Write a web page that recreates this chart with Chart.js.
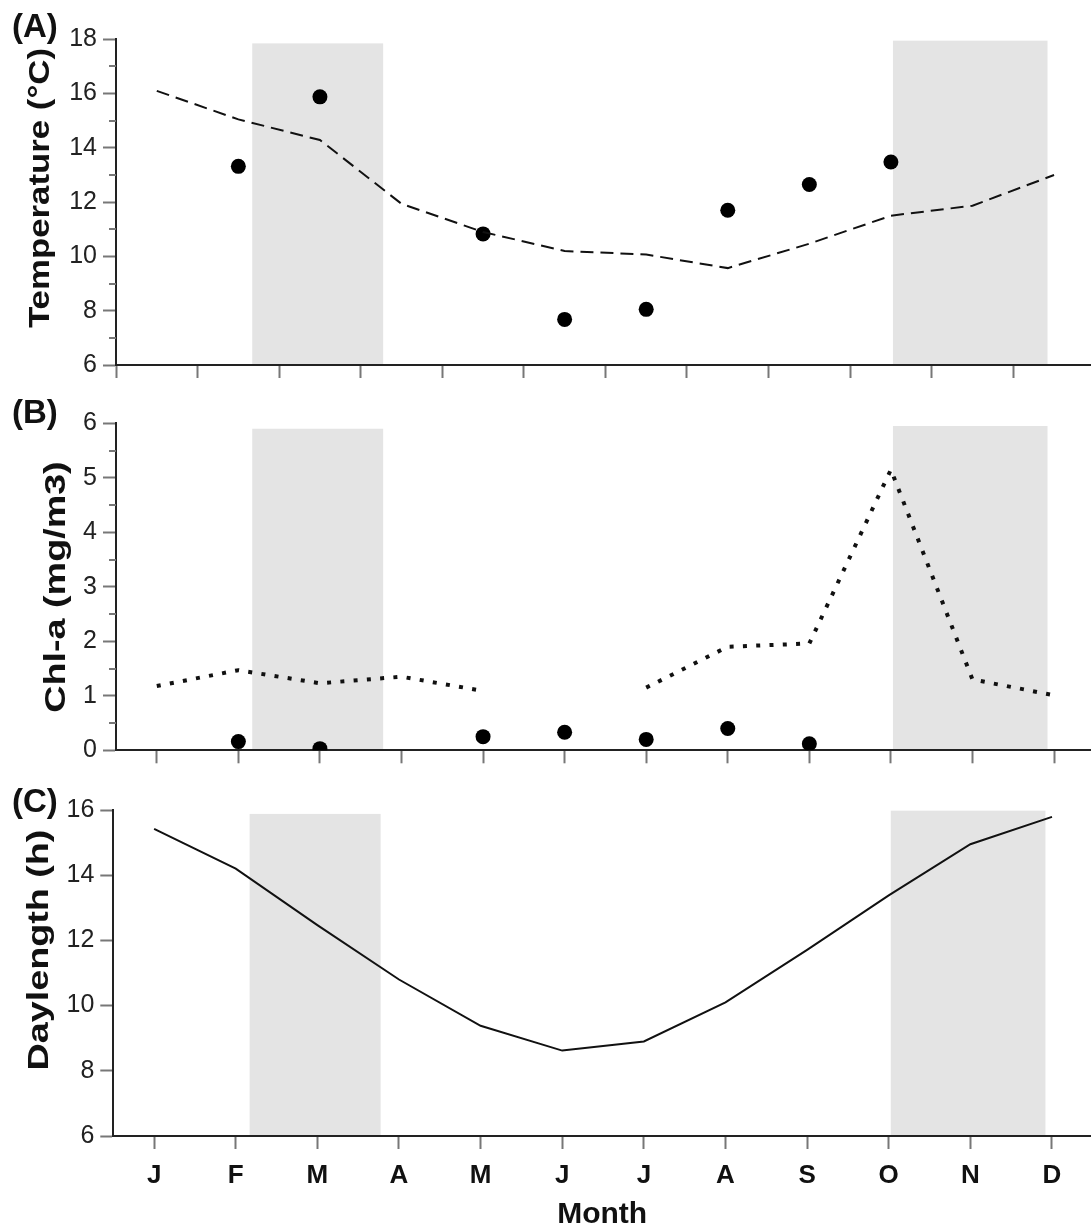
<!DOCTYPE html>
<html>
<head>
<meta charset="utf-8">
<script src="https://cdn.jsdelivr.net/npm/chart.js@4.4.1/dist/chart.umd.min.js"></script>
<style>
  html, body { margin: 0; padding: 0; background: #fff; overflow: hidden; }
  #wrap { position: relative; width: 1091px; height: 1225px; }
  canvas { position: absolute; left: 0; }
</style>
</head>
<body>
<div id="wrap">
  <canvas id="panelA" width="1091" height="400" style="top:0px"></canvas>
  <canvas id="panelB" width="1091" height="400" style="top:380px"></canvas>
  <canvas id="panelC" width="1091" height="445" style="top:780px"></canvas>
</div>
<script>
// Month positions and labels (Jan..Dec)
const monthPos = [0, 1, 2, 3, 4, 5, 6, 7, 8, 9, 10, 11];
const monthLabels = ['J', 'F', 'M', 'A', 'M', 'J', 'J', 'A', 'S', 'O', 'N', 'D'];
const betweenMonthTicks = [-0.5, 0.5, 1.5, 2.5, 3.5, 4.5, 5.5, 6.5, 7.5, 8.5, 9.5, 10.5];

// (A) water temperature: climatology (dashed) and observations (dots)
const tempClim = [16.1, 15.05, 14.29, 11.94, 10.9, 10.2, 10.07, 9.57, 10.47, 11.5, 11.87, 13.0];
const tempObs  = [null, 13.32, 15.88, null, 10.83, 7.68, 8.05, 11.7, 12.65, 13.48, null, null];

// (B) chlorophyll-a: climatology (dotted) and observations (dots)
const chlClim = [1.18, 1.47, 1.23, 1.35, 1.09, null, 1.15, 1.9, 1.96, 5.15, 1.3, 1.01];
const chlObs  = [null, 0.16, 0.03, null, 0.25, 0.33, 0.2, 0.4, 0.12, null, null, null];

// (C) daylength in hours
const daylength = [15.42, 14.2, 12.47, 10.8, 9.38, 8.62, 8.9, 10.1, 11.71, 13.38, 14.95, 15.79];

// Shaded periods (in month units) and the height each shade reaches in every panel
const shadeSpans = [[1.17, 2.775], [9.025, 10.92]];
const tempShadeTop = [17.85, 17.95];
const chlShadeTop = [5.9, 5.95];
const dayShadeTop = [15.88, 15.98];

// Axis ticks
const tempTicks = [6, 8, 10, 12, 14, 16, 18];
const tempMinor = [7, 9, 11, 13, 15, 17];
const chlTicks = [0, 1, 2, 3, 4, 5, 6];
const chlMinor = [0.5, 1.5, 2.5, 3.5, 4.5, 5.5];
const dayTicks = [6, 8, 10, 12, 14, 16];

const FONT = "'Liberation Sans', Arial, Helvetica, sans-serif";
const AXIS = '#222';
const TICK = '#777';

function toXY(vals) {
  return vals.map((v, i) => ({ x: monthPos[i], y: v }));
}
function toPoints(vals) {
  return vals.map((v, i) => ({ x: monthPos[i], y: v })).filter(p => p.y !== null);
}

function buildPanel(id, p) {
  const decorations = {
    id: 'decor_' + id,
    beforeDraw(chart) {
      const { ctx, chartArea, scales: { x, y } } = chart;
      ctx.save();
      ctx.fillStyle = '#e4e4e4';
      p.shadeSpans.forEach((s, i) => {
        const x1 = x.getPixelForValue(s[0]);
        const x2 = x.getPixelForValue(s[1]);
        const yt = y.getPixelForValue(p.shadeTops[i]);
        ctx.fillRect(x1, yt, x2 - x1, chartArea.bottom - yt);
      });
      ctx.restore();
    },
    afterDraw(chart) {
      const { ctx, chartArea, scales: { y } } = chart;
      ctx.save();
      // minor ticks on the value axis
      ctx.strokeStyle = TICK;
      ctx.lineWidth = 2;
      (p.minor || []).forEach(v => {
        const py = Math.round(y.getPixelForValue(v));
        ctx.beginPath();
        ctx.moveTo(chartArea.left - 7, py);
        ctx.lineTo(chartArea.left, py);
        ctx.stroke();
      });
      // panel tag
      ctx.fillStyle = '#111';
      ctx.font = 'bold 33px ' + FONT;
      ctx.textAlign = 'left';
      ctx.textBaseline = 'middle';
      ctx.fillText(p.tag, 12, p.tagY);
      // value axis title, set along the axis
      ctx.translate(p.titleX, p.titleY);
      ctx.rotate(-Math.PI / 2);
      ctx.scale(p.titleStretch, 1);
      ctx.textAlign = 'center';
      ctx.font = 'bold 29px ' + FONT;
      ctx.fillText(p.yTitle, 0, 0);
      ctx.restore();
    }
  };

  return new Chart(document.getElementById(id), {
    type: 'scatter',
    data: { datasets: p.datasets },
    options: {
      responsive: false,
      animation: false,
      events: [],
      layout: { autoPadding: false, padding: { top: p.padTop, right: 0, bottom: 0, left: 0 } },
      plugins: { legend: { display: false }, tooltip: { enabled: false } },
      scales: {
        x: {
          type: 'linear',
          min: p.xMin,
          max: p.xMax,
          afterBuildTicks: s => { s.ticks = p.xTicks.map(v => ({ value: v })); },
          afterFit: s => { s.height = p.xHeight; },
          ticks: {
            display: p.xLabels,
            autoSkip: false,
            maxRotation: 0,
            padding: 11,
            color: '#111',
            font: { family: FONT, size: 26, weight: 'bold' },
            callback: v => {
              const i = monthPos.indexOf(v);
              return i >= 0 ? monthLabels[i] : '';
            }
          },
          title: {
            display: !!p.xTitle,
            text: p.xTitle || '',
            color: '#111',
            font: { family: FONT, size: 30, weight: 'bold', lineHeight: 0.7 },
            padding: { top: 0, bottom: 0 }
          },
          grid: { drawOnChartArea: false, drawTicks: true, tickLength: 13, tickColor: TICK, tickWidth: 2 },
          border: { display: true, color: AXIS, width: 2 }
        },
        y: {
          type: 'linear',
          min: p.yMin,
          max: p.yMax,
          afterBuildTicks: s => { s.ticks = p.yTicks.map(v => ({ value: v })); },
          afterFit: s => { s.width = p.yWidth; },
          ticks: {
            padding: 6,
            color: '#222',
            font: { family: FONT, size: 25 }
          },
          grid: { drawOnChartArea: false, drawTicks: true, tickLength: 13, tickColor: TICK, tickWidth: 2 },
          border: { display: true, color: AXIS, width: 2 }
        }
      }
    },
    plugins: [decorations]
  });
}

buildPanel('panelA', {
  tag: '(A)', tagY: 28,
  yTitle: 'Temperature (°C)', titleX: 41, titleY: 188, titleStretch: 1.2,
  padTop: 39.3, xHeight: 35, yWidth: 116,
  xMin: -0.5, xMax: 11.453, xTicks: betweenMonthTicks, xLabels: false,
  yMin: 6, yMax: 18, yTicks: tempTicks, minor: tempMinor,
  shadeSpans: shadeSpans, shadeTops: tempShadeTop,
  datasets: [
    { data: toXY(tempClim), showLine: true, spanGaps: false, borderColor: '#111', borderWidth: 2,
      borderDash: [13, 7], pointRadius: 0, fill: false },
    { data: toPoints(tempObs), showLine: false, pointRadius: 7.5, pointBackgroundColor: '#000',
      pointBorderColor: '#000', pointBorderWidth: 0 }
  ]
});

buildPanel('panelB', {
  tag: '(B)', tagY: 34,
  yTitle: 'Chl-a (mg/m3)', titleX: 57, titleY: 207, titleStretch: 1.3,
  padTop: 43.3, xHeight: 29.7, yWidth: 116,
  xMin: -0.5, xMax: 11.453, xTicks: monthPos, xLabels: false,
  yMin: 0, yMax: 6, yTicks: chlTicks, minor: chlMinor,
  shadeSpans: shadeSpans, shadeTops: chlShadeTop,
  datasets: [
    { data: toXY(chlClim), showLine: true, spanGaps: false, borderColor: '#111', borderWidth: 4,
      borderDash: [4, 9.3], borderCapStyle: 'butt', pointRadius: 0, fill: false },
    { data: toPoints(chlObs), showLine: false, pointRadius: 7.5, pointBackgroundColor: '#000',
      pointBorderColor: '#000', pointBorderWidth: 0 }
  ]
});

buildPanel('panelC', {
  tag: '(C)', tagY: 23,
  yTitle: 'Daylength (h)', titleX: 40, titleY: 170, titleStretch: 1.3,
  padTop: 30, xHeight: 89, yWidth: 113.3,
  xMin: -0.5, xMax: 11.478, xTicks: monthPos, xLabels: true, xTitle: 'Month',
  yMin: 6, yMax: 16, yTicks: dayTicks, minor: [],
  shadeSpans: shadeSpans, shadeTops: dayShadeTop,
  datasets: [
    { data: toXY(daylength), showLine: true, borderColor: '#111', borderWidth: 2,
      pointRadius: 0, fill: false }
  ]
});
</script>
</body>
</html>
